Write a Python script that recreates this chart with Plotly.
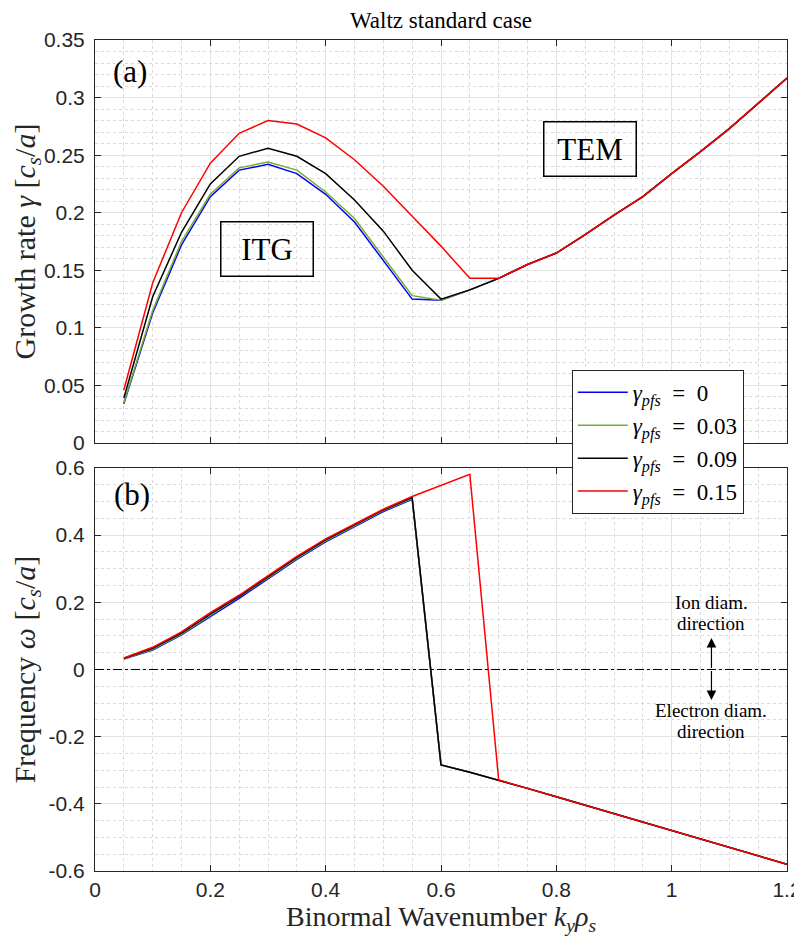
import plotly.graph_objects as go
from plotly.subplots import make_subplots

# ---- data ----
ky = [0.05, 0.10, 0.15, 0.20, 0.25, 0.30, 0.35, 0.40, 0.45, 0.50, 0.55, 0.60,
      0.65, 0.70, 0.75, 0.80, 0.85, 0.90, 0.95, 1.00, 1.05, 1.10, 1.15, 1.20]

series_names = ["γ_pfs = 0", "γ_pfs = 0.03", "γ_pfs = 0.09", "γ_pfs = 0.15"]
legend_values = ["0", "0.03", "0.09", "0.15"]

gamma_0 = [0.034, 0.113, 0.172, 0.214, 0.237, 0.242, 0.234, 0.216, 0.192, 0.158, 0.125, 0.124,
           0.133, 0.143, 0.155, 0.165, 0.181, 0.198, 0.214, 0.234, 0.253, 0.273, 0.295, 0.317]
gamma_003 = [0.035, 0.115, 0.175, 0.216, 0.239, 0.244, 0.237, 0.218, 0.195, 0.161, 0.128, 0.124,
             0.133, 0.143, 0.155, 0.165, 0.181, 0.198, 0.214, 0.234, 0.253, 0.273, 0.295, 0.317]
gamma_009 = [0.039, 0.127, 0.183, 0.225, 0.249, 0.256, 0.249, 0.234, 0.211, 0.184, 0.150, 0.125,
             0.133, 0.143, 0.155, 0.165, 0.181, 0.198, 0.214, 0.234, 0.253, 0.273, 0.295, 0.317]
gamma_015 = [0.046, 0.139, 0.200, 0.243, 0.269, 0.280, 0.277, 0.265, 0.246, 0.223, 0.197, 0.171,
             0.143, 0.143, 0.155, 0.165, 0.181, 0.198, 0.214, 0.234, 0.253, 0.273, 0.295, 0.317]

omega_0 = [0.031, 0.058, 0.103, 0.158, 0.212, 0.270, 0.328, 0.380, 0.425, 0.470, 0.507, -0.284,
           -0.306, -0.329, -0.354, -0.379, -0.404, -0.429, -0.454, -0.479, -0.504, -0.529, -0.554, -0.580]
omega_003 = [0.032, 0.060, 0.105, 0.161, 0.215, 0.273, 0.331, 0.383, 0.428, 0.473, 0.509, -0.284,
             -0.306, -0.329, -0.354, -0.379, -0.404, -0.429, -0.454, -0.479, -0.504, -0.529, -0.554, -0.580]
omega_009 = [0.033, 0.063, 0.108, 0.165, 0.218, 0.276, 0.334, 0.386, 0.430, 0.475, 0.512, -0.284,
             -0.306, -0.329, -0.354, -0.379, -0.404, -0.429, -0.454, -0.479, -0.504, -0.529, -0.554, -0.580]
omega_015 = [0.034, 0.066, 0.112, 0.169, 0.221, 0.279, 0.337, 0.389, 0.433, 0.477, 0.515, 0.549,
             0.581, -0.329, -0.354, -0.379, -0.404, -0.429, -0.454, -0.479, -0.504, -0.529, -0.554, -0.580]

colors = ["#0000ff", "#77ac30", "#000000", "#ff0000"]

top_yticks = [0, 0.05, 0.1, 0.15, 0.2, 0.25, 0.3, 0.35]
top_yticklabels = ["0", "0.05", "0.1", "0.15", "0.2", "0.25", "0.3", "0.35"]
bot_yticks = [-0.6, -0.4, -0.2, 0, 0.2, 0.4, 0.6]
bot_yticklabels = ["-0.6", "-0.4", "-0.2", "0", "0.2", "0.4", "0.6"]
xticks = [0, 0.2, 0.4, 0.6, 0.8, 1.0, 1.2]
xticklabels = ["0", "0.2", "0.4", "0.6", "0.8", "1", "1.2"]

SERIF = "Liberation Serif"
SANS = "Liberation Sans"
AX = "#262626"

fig = make_subplots(rows=2, cols=1, shared_xaxes=False, vertical_spacing=0.03)

gammas = [gamma_0, gamma_003, gamma_009, gamma_015]
omegas = [omega_0, omega_003, omega_009, omega_015]
for i in range(4):
    name = "<i>γ</i><sub><i>pfs</i></sub>\u2002=\u2002" + legend_values[i]
    fig.add_trace(go.Scatter(x=ky, y=gammas[i], mode="lines", name=name,
                             line=dict(color=colors[i], width=1.5), showlegend=True,
                             legendgroup=str(i)), row=1, col=1)
for i in range(4):
    fig.add_trace(go.Scatter(x=ky, y=omegas[i], mode="lines", name=series_names[i],
                             line=dict(color=colors[i], width=1.5), showlegend=False,
                             legendgroup=str(i)), row=2, col=1)

common_x = dict(range=[0, 1.2], tickvals=xticks, ticktext=xticklabels, automargin=False,
                showgrid=True, gridcolor="#e3e3e3", gridwidth=1,
                minor=dict(dtick=0.05, tick0=0, showgrid=True, gridcolor="#dadada",
                           griddash="dot", gridwidth=1, ticks=""),
                showline=True, linecolor=AX, linewidth=1, mirror="ticks",
                ticks="inside", ticklen=6, tickcolor=AX, zeroline=False,
                tickfont=dict(family=SANS, size=21, color=AX))

fig.update_xaxes(**common_x, showticklabels=False, domain=[0, 1], row=1, col=1)
fig.update_xaxes(**common_x, showticklabels=True, domain=[0, 1], row=2, col=1,
                 title=dict(text="Binormal Wavenumber <i>k<sub>y</sub>ρ<sub>s</sub></i>",
                            font=dict(family=SERIF, size=28, color=AX), standoff=0))

common_y = dict(showgrid=True, gridcolor="#e3e3e3", gridwidth=1, automargin=False,
                showline=True, linecolor=AX, linewidth=1, mirror="ticks",
                ticks="inside", ticklen=6, tickcolor=AX, zeroline=False,
                ticklabelstandoff=5,
                tickfont=dict(family=SANS, size=21, color=AX))

fig.update_yaxes(**common_y, range=[0, 0.35], tickvals=top_yticks, ticktext=top_yticklabels,
                 minor=dict(dtick=0.01, tick0=0, showgrid=True, gridcolor="#dadada",
                            griddash="dot", gridwidth=1, ticks=""),
                 domain=[0.515, 1.0], row=1, col=1,
                 title=dict(text="Growth rate <i>γ</i> [<i>c<sub>s</sub></i>/<i>a</i>]",
                            font=dict(family=SERIF, size=30, color=AX), standoff=5))
fig.update_yaxes(**common_y, range=[-0.6, 0.6], tickvals=bot_yticks, ticktext=bot_yticklabels,
                 minor=dict(dtick=0.05, tick0=0, showgrid=True, gridcolor="#dadada",
                            griddash="dot", gridwidth=1, ticks=""),
                 domain=[0.0, 0.485], row=2, col=1,
                 title=dict(text="Frequency <i>ω</i> [<i>c<sub>s</sub></i>/<i>a</i>]",
                            font=dict(family=SERIF, size=30, color=AX), standoff=5))

# zero dash-dot line in (b)
fig.add_shape(type="line", xref="x2", yref="y2", x0=0, x1=1.2, y0=0, y1=0,
              line=dict(color="#000000", width=1, dash="dashdot"))

ann = []
ann.append(dict(text="Waltz standard case", xref="paper", yref="paper", x=0.5, y=1.0,
                xanchor="center", yanchor="middle", yshift=20, showarrow=False,
                font=dict(family=SERIF, size=23, color="#000000")))
ann.append(dict(text="(a)", xref="x", yref="y", x=0.06, y=0.3226, showarrow=False,
                xanchor="center", yanchor="middle", font=dict(family=SERIF, size=31, color="#000000")))
ann.append(dict(text="(b)", xref="x2", yref="y2", x=0.064, y=0.52, showarrow=False,
                xanchor="center", yanchor="middle", font=dict(family=SERIF, size=31, color="#000000")))
ann.append(dict(text="ITG", xref="x", yref="y", x=0.299, y=0.1684, showarrow=False,
                xanchor="center", yanchor="middle", width=89, height=51, borderpad=1,
                bordercolor="#000000", borderwidth=1.5, bgcolor="rgba(255,255,255,0)",
                font=dict(family=SERIF, size=31, color="#000000")))
ann.append(dict(text="TEM", xref="x", yref="y", x=0.858, y=0.2556, showarrow=False,
                xanchor="center", yanchor="middle", width=89, height=51, borderpad=1,
                bordercolor="#000000", borderwidth=1.5, bgcolor="rgba(255,255,255,0)",
                font=dict(family=SERIF, size=31, color="#000000")))
for txt, yy in [("Ion diam.", 0.198), ("direction", 0.138),
                ("Electron diam.", -0.123), ("direction", -0.185)]:
    ann.append(dict(text=txt, xref="x2", yref="y2", x=1.069, y=yy,
                    showarrow=False, xanchor="center", yanchor="middle", align="center",
                    font=dict(family=SERIF, size=19, color="#000000")))
ann.append(dict(text="", xref="x2", yref="y2", x=1.069, y=0.094, axref="x2", ayref="y2",
                ax=1.069, ay=0.0, showarrow=True, arrowhead=2, arrowsize=1.6, arrowwidth=1.2,
                arrowcolor="#000000"))
ann.append(dict(text="", xref="x2", yref="y2", x=1.069, y=-0.091, axref="x2", ayref="y2",
                ax=1.069, ay=0.0, showarrow=True, arrowhead=2, arrowsize=1.6, arrowwidth=1.2,
                arrowcolor="#000000"))

# page body adds an 8px offset; compensate so the axes land where the reference has them
fig.update_layout(
    width=794, height=929,
    margin=dict(l=87, r=15, t=32, b=66, autoexpand=False),
    plot_bgcolor="#ffffff", paper_bgcolor="#ffffff",
    annotations=ann,
    showlegend=True,
    legend=dict(x=0.689, y=0.603, xanchor="left", yanchor="top",
                bgcolor="#ffffff", bordercolor=AX, borderwidth=1,
                font=dict(family=SERIF, size=23, color="#000000"),
                tracegroupgap=0, itemwidth=50),
)

fig.write_html("out.html")
